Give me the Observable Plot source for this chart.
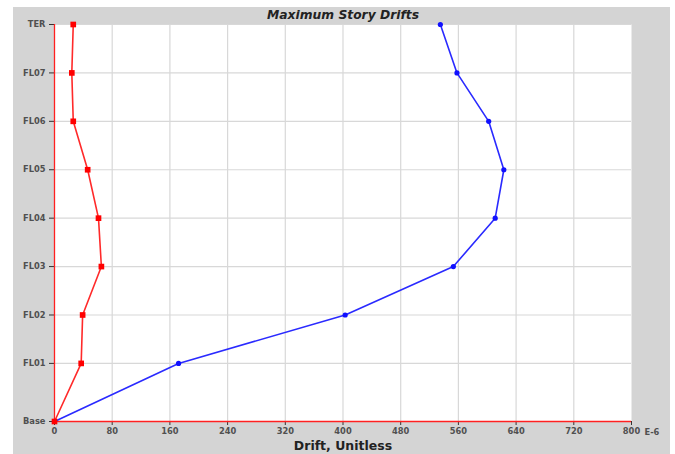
<!DOCTYPE html>
<html>
<head>
<meta charset="utf-8">
<script src="https://cdn.jsdelivr.net/npm/d3@7"></script>
<script src="https://cdn.jsdelivr.net/npm/@observablehq/plot@0.6"></script>
<style>
  html, body { margin: 0; padding: 0; background: #fff; }
  #wrap { position: relative; width: 675px; height: 454px; overflow: hidden; }
  #bg { position: absolute; left: 13px; top: 7px; width: 657px; height: 447px; background: #d4d4d4; }
  #chart { position: absolute; left: 0; top: 0; }
  #chart svg { background: transparent; }
</style>
</head>
<body>
<div id="wrap"><div id="bg"></div><div id="chart"></div></div>
<script>
const stories = ["Base", "FL01", "FL02", "FL03", "FL04", "FL05", "FL06", "FL07", "TER"];
const elevations = [0, 4.2, 7.7, 11.2, 14.7, 18.2, 21.7, 25.2, 28.7];
const driftX = [0, 37, 39, 65, 61, 46, 26, 24, 26];
const driftY = [0, 172, 403, 553, 611, 623, 602, 558, 535];
const xTicks = [0, 80, 160, 240, 320, 400, 480, 560, 640, 720, 800];

const red = stories.map((s, i) => ({story: s, elev: elevations[i], drift: driftX[i]}));
const blue = stories.map((s, i) => ({story: s, elev: elevations[i], drift: driftY[i]}));
const labelOf = new Map(elevations.map((e, i) => [e, stories[i]]));

const font = "DejaVu Sans, Verdana, sans-serif";

const chart = Plot.plot({
  width: 675,
  height: 454,
  marginLeft: 54,
  marginRight: 44,
  marginTop: 24,
  marginBottom: 33,
  style: {fontFamily: font, background: "transparent", overflow: "visible"},
  x: {domain: [0, 800], ticks: xTicks},
  y: {domain: [0, 28.7], ticks: elevations},
  marks: [
    Plot.frame({fill: "white", stroke: null}),
    Plot.gridX(xTicks.filter(d => d > 0 && d < 800), {stroke: "#d8d8d8", strokeOpacity: 1, strokeWidth: 1.2}),
    Plot.gridY(elevations.filter(d => d > 0), {stroke: "#d8d8d8", strokeOpacity: 1, strokeWidth: 1.2}),
    Plot.axisX({ticks: xTicks, tickSize: 4, tickPadding: 3, fontSize: 8.3, fontWeight: "bold", fill: "#505050", stroke: "#333", label: null, tickFormat: d => d}),
    Plot.axisY({ticks: elevations, tickSize: 5, tickPadding: 4, fontSize: 8.3, fontWeight: "bold", fill: "#505050", stroke: "#333", label: null, tickFormat: d => labelOf.get(d)}),
    Plot.ruleX([0], {stroke: "#ff2020", strokeWidth: 1.3}),
    Plot.ruleY([0], {stroke: "#ff2020", strokeWidth: 1.3}),
    Plot.line(blue, {x: "drift", y: "elev", stroke: "#2a2aff", strokeWidth: 1.6}),
    Plot.dot(blue, {x: "drift", y: "elev", fill: "#1010ff", r: 2.6, stroke: null}),
    Plot.line(red, {x: "drift", y: "elev", stroke: "#ff2a2a", strokeWidth: 1.6}),
    Plot.dot(red, {x: "drift", y: "elev", fill: "#ff0000", symbol: "square", r: 3.2, stroke: null}),
    Plot.text(["E-6"], {x: 800, y: 0, text: d => d, dx: 13, dy: 11, textAnchor: "start", lineAnchor: "middle", fontSize: 8.3, fontWeight: "bold", fill: "#505050"}),
    Plot.text(["Maximum Story Drifts"], {frameAnchor: "top", dy: -9, lineAnchor: "middle", text: d => d, fontSize: 12.3, fontWeight: "bold", fontStyle: "italic", fill: "#222"}),
    Plot.text(["Drift, Unitless"], {frameAnchor: "bottom", dy: 24.5, lineAnchor: "middle", text: d => d, fontSize: 12.5, fontWeight: "bold", fill: "#222"})
  ]
});
document.getElementById("chart").append(chart);
</script>
</body>
</html>
